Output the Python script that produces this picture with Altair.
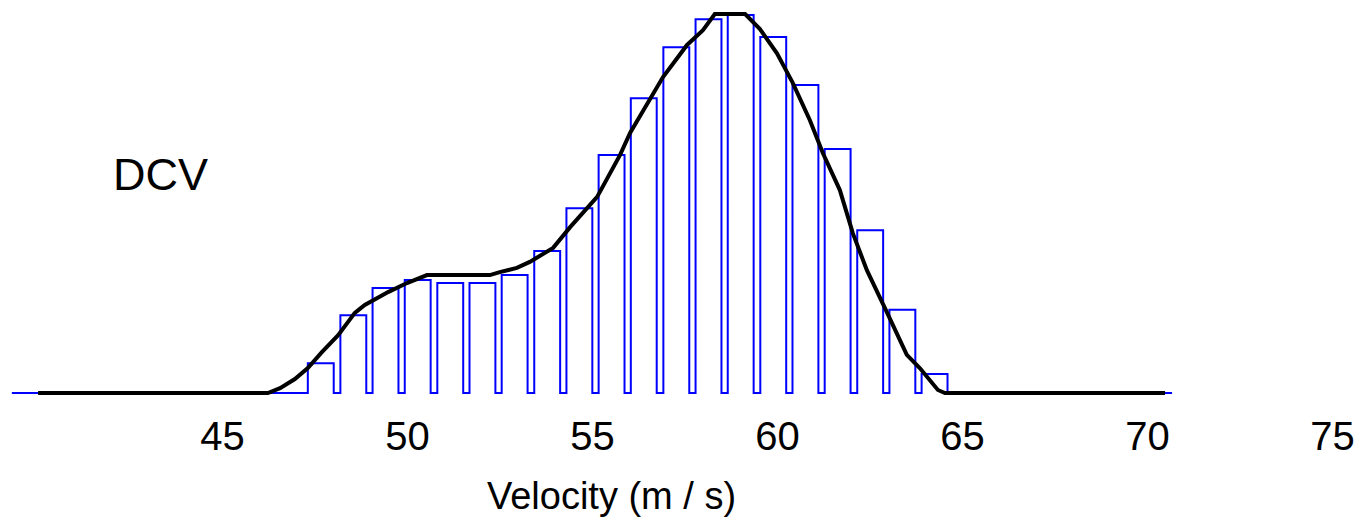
import altair as alt
import pandas as pd

# Histogram bins (left edge in m/s) and relative heights
bin_start = [47.32, 48.20, 49.07, 49.94, 50.82, 51.69, 52.56, 53.44, 54.31, 55.18,
             56.05, 56.93, 57.80, 58.67, 59.55, 60.42, 61.29, 62.17, 63.04, 63.91]
bin_height = [7.9, 20.6, 27.8, 29.9, 29.1, 29.1, 31.2, 37.6, 48.9, 63.0,
              78.0, 91.5, 98.9, 100.0, 94.2, 81.5, 64.6, 43.1, 22.0, 5.0]
bar_width = 0.70
baseline_range = [39.32, 70.68]

# Smoothed distribution curve
curve_v = [40.03, 46.24, 46.57, 46.97, 47.32, 47.70, 48.14, 48.59, 48.86, 49.49,
           50.00, 50.54, 52.24, 52.51, 52.97, 53.32, 53.95, 54.41, 55.14, 55.76,
           56.03, 56.92, 57.57, 58.00, 58.32, 59.14, 59.54, 60.00, 60.43, 60.89,
           61.24, 61.70, 62.05, 62.43, 62.97, 63.51, 63.86, 64.35, 64.54, 70.49]
curve_h = [0.0, 0.0, 1.3, 3.7, 6.6, 10.8, 15.3, 21.2, 23.3, 26.7,
           29.1, 31.2, 31.2, 32.0, 33.1, 34.7, 38.4, 43.9, 51.9, 63.0,
           68.8, 83.6, 92.1, 96.0, 100.3, 100.3, 96.3, 89.9, 82.0, 72.2,
           63.5, 53.7, 42.3, 32.5, 21.4, 10.1, 6.6, 0.8, 0.0, 0.0]

x_ticks = [45, 50, 55, 60, 65, 70, 75]
x_title = "Velocity (m / s)"
label_text = "DCV"

# Outline path of the histogram (open-bottom bars joined along the baseline)
pts = [(baseline_range[0], 0.0)]
for s, h in zip(bin_start, bin_height):
    pts += [(s, 0.0), (s, h), (s + bar_width, h), (s + bar_width, 0.0)]
pts.append((baseline_range[1], 0.0))
hist_df = pd.DataFrame({"v": [p[0] for p in pts], "h": [p[1] for p in pts],
                        "i": list(range(len(pts)))})
curve_df = pd.DataFrame({"v": curve_v, "h": curve_h, "i": list(range(len(curve_v)))})

FONT = "Liberation Sans"
xscale = alt.Scale(domain=[39, 75.84], nice=False, zero=False)
yscale = alt.Scale(domain=[0, 104], nice=False, zero=True)
xaxis = alt.Axis(values=x_ticks, title=x_title, grid=False, domain=False, ticks=False,
                 tickSize=0, labelPadding=44, labelBaseline="middle", labelFontSize=40,
                 labelFont=FONT, labelColor="black", labelOverlap=False, labelFlush=False,
                 titleFontSize=38, titleFont=FONT, titleFontWeight="normal",
                 titleColor="black", titleX=611, titleY=104, titleBaseline="middle")

hist = alt.Chart(hist_df).mark_line(color="#0000ff", strokeWidth=2).encode(
    x=alt.X("v:Q", scale=xscale, axis=xaxis),
    y=alt.Y("h:Q", scale=yscale, axis=None),
    order=alt.Order("i:Q"),
)
curve = alt.Chart(curve_df).mark_line(color="black", strokeWidth=4).encode(
    x=alt.X("v:Q", scale=xscale, axis=xaxis),
    y=alt.Y("h:Q", scale=yscale, axis=None),
    order=alt.Order("i:Q"),
)

chart = alt.layer(hist, curve).properties(
    width=1363, height=393,
    autosize=alt.AutoSizeParams(type="none"),
    padding={"left": 0, "top": 0, "right": 0, "bottom": 127},
    title=alt.TitleParams(label_text, anchor="start", frame="group", orient="top",
                          offset=0, dx=113, dy=235, baseline="alphabetic",
                          fontSize=45, font=FONT, fontWeight="normal", color="black"),
).configure_view(stroke=None)

chart.save("out.html", embed_options={"renderer": "svg", "actions": False})
